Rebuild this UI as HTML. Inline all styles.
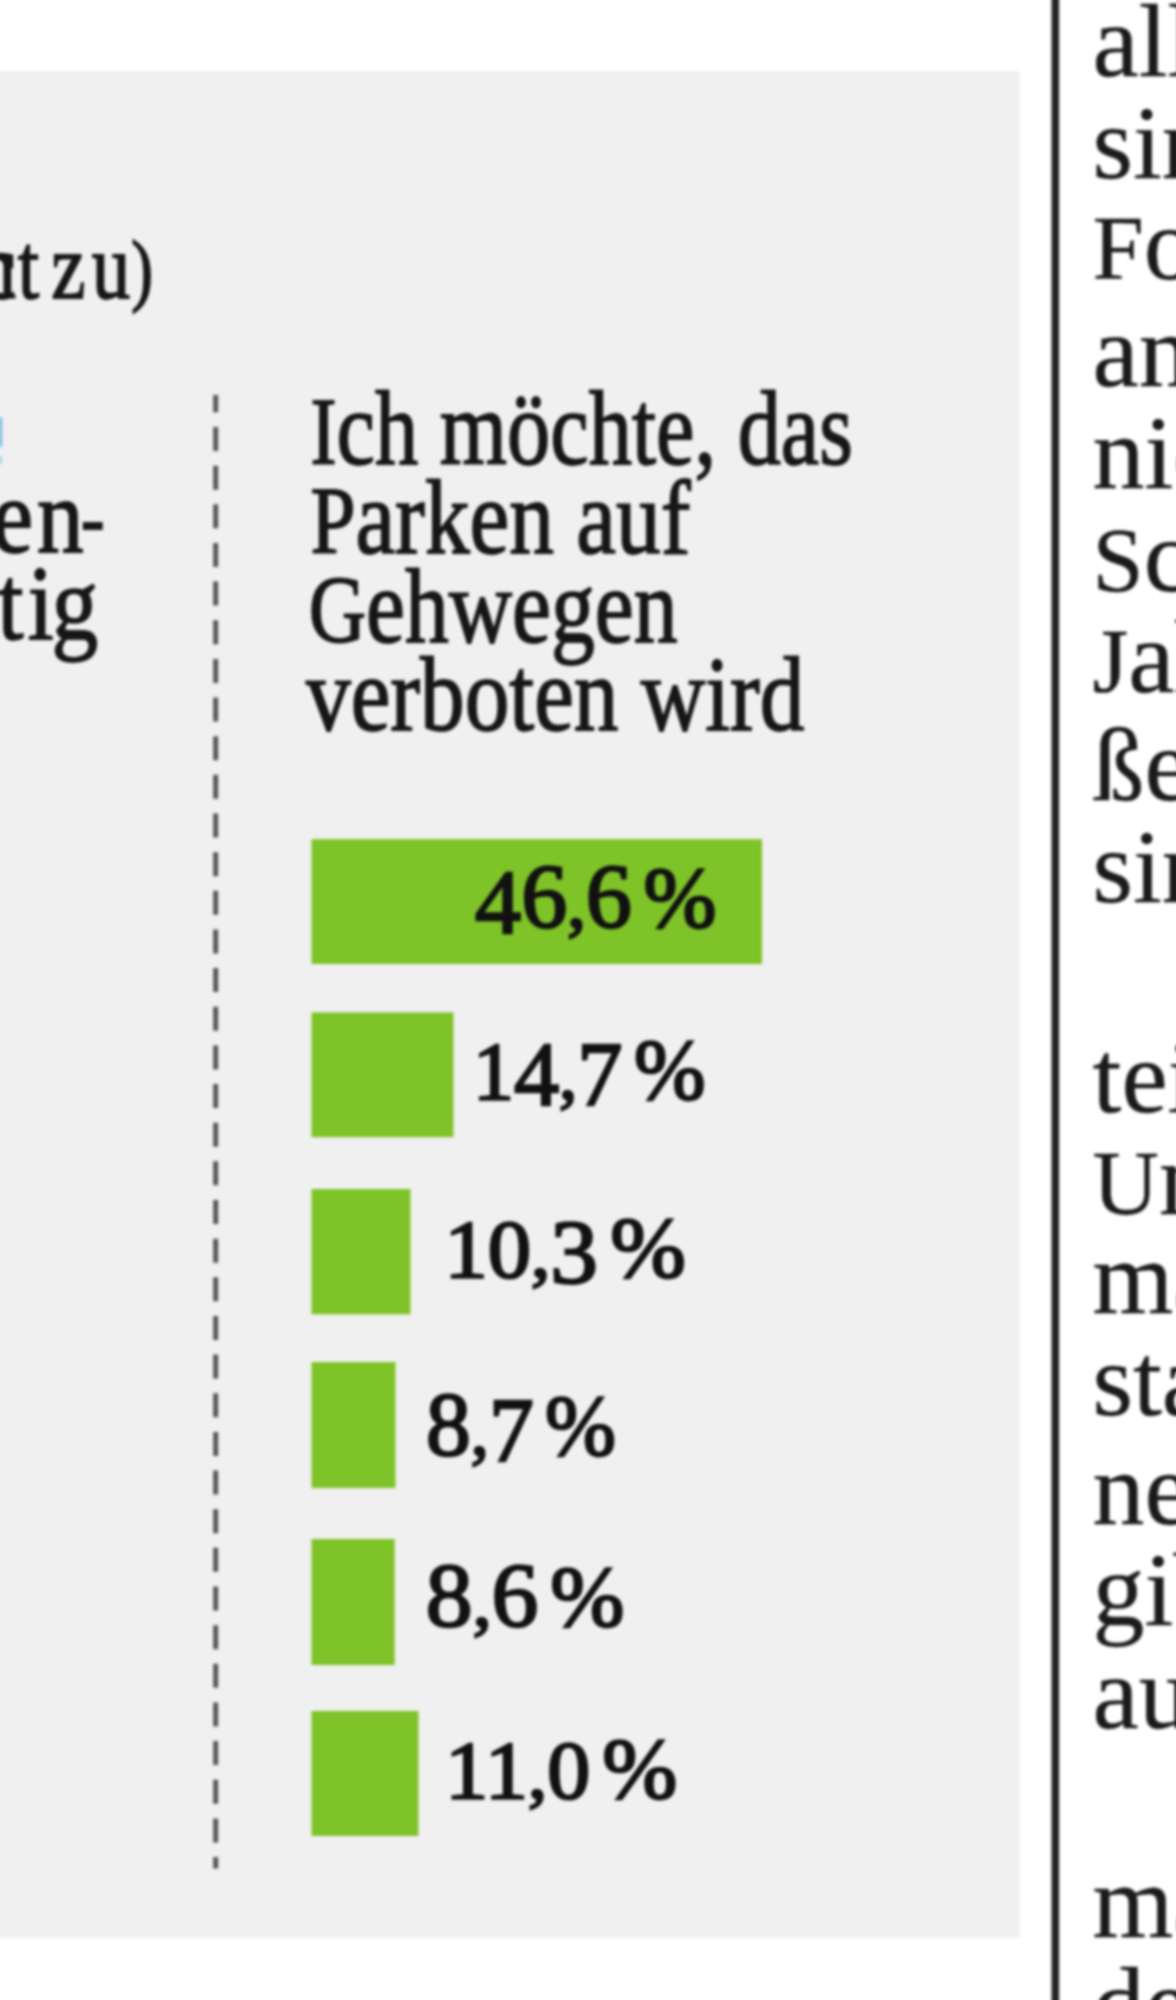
<!DOCTYPE html>
<html lang="de">
<head>
<meta charset="utf-8">
<title>Umfrage: Parken auf Gehwegen</title>
<style>
html,body{margin:0;padding:0;background:#fff;}
html{overflow:hidden;width:1176px;height:2000px;}
body{width:1176px;height:2000px;overflow:hidden;position:relative;}
#wrap{position:absolute;left:0;top:0;width:1176px;height:2000px;overflow:hidden;}
svg{position:absolute;left:-24px;top:-24px;display:block;filter:blur(1.5px);}
.lab{font-family:"Liberation Serif",serif;font-size:106px;fill:#161616;stroke:#161616;stroke-width:1.8px;}
.sub{font-family:"Liberation Serif",serif;font-size:94px;fill:#161616;stroke:#161616;stroke-width:1.8px;}
.pct{font-family:"Liberation Serif",serif;font-weight:400;font-size:83px;fill:#111;stroke:#111;stroke-width:2.6px;}
.body{font-family:"Liberation Serif",serif;font-size:104px;fill:#1a1a1a;stroke:#1a1a1a;stroke-width:0.4px;}
</style>
</head>
<body>
<div id="wrap">
<svg width="1224" height="2048" viewBox="-24 -24 1224 2048">
  <rect x="-24" y="71" width="1043.5" height="1867" fill="#f0f0f0"/>
  <rect x="1051.5" y="-24" width="7.6" height="2048" fill="#222"/>
  <line x1="215.7" y1="395" x2="215.7" y2="1868.5" stroke="#555" stroke-width="5" stroke-dasharray="24 14.65" stroke-dashoffset="6.65"/>
  <rect x="-6" y="417" width="8.5" height="30" fill="#92c5e7"/>
  <rect x="-6" y="456" width="8" height="8" fill="#b5d6ec"/>
  <g fill="#7ec328">
    <rect x="311.5" y="839.2" width="450.5" height="124.8"/>
    <rect x="311.5" y="1012.4" width="142" height="124.8"/>
    <rect x="311.5" y="1189" width="99" height="125.3"/>
    <rect x="311.5" y="1362" width="84" height="126"/>
    <rect x="311.5" y="1539" width="83.2" height="126"/>
    <rect x="311.5" y="1711" width="107" height="125"/>
  </g>
  <text id="L1" class="lab" x="310.51" y="464.00" textLength="542.42" lengthAdjust="spacingAndGlyphs"><tspan font-size="96">I</tspan>ch möchte, das</text>
  <text id="L2" class="lab" x="310.43" y="552.50" textLength="380.01" lengthAdjust="spacingAndGlyphs"><tspan font-size="96">P</tspan>arken auf</text>
  <text id="L3" class="lab" x="308.68" y="641.50" textLength="368.91" lengthAdjust="spacingAndGlyphs"><tspan font-size="96">G</tspan>ehwegen</text>
  <text id="L4" class="lab" x="305.99" y="729.50" textLength="498.54" lengthAdjust="spacingAndGlyphs">verboten wird</text>
  <text id="P1" class="pct" x="475.12" y="927.40" textLength="241.31" lengthAdjust="spacingAndGlyphs"><tspan font-size="91.5" dy="6">4</tspan><tspan font-size="91.5" dy="-6">6</tspan><tspan font-size="74">,</tspan><tspan font-size="91.5">6</tspan> <tspan font-size="87" dx="-5">%</tspan></text>
  <text id="P2" class="pct" x="472.93" y="1098.60" textLength="232.67" lengthAdjust="spacingAndGlyphs">1<tspan font-size="91.5" dy="6">4</tspan><tspan font-size="74" dy="-6">,</tspan><tspan font-size="91.5" dy="6">7</tspan><tspan dy="-6"> </tspan><tspan font-size="87" dx="-5">%</tspan></text>
  <text id="P3" class="pct" x="444.46" y="1277.00" textLength="241.31" lengthAdjust="spacingAndGlyphs">10<tspan font-size="74">,</tspan><tspan font-size="91.5" dy="6">3</tspan><tspan dy="-6"> </tspan><tspan font-size="87" dx="-5">%</tspan></text>
  <text id="P4" class="pct" x="426.07" y="1454.50" textLength="189.91" lengthAdjust="spacingAndGlyphs"><tspan font-size="91.5">8</tspan><tspan font-size="74">,</tspan><tspan font-size="91.5" dy="6">7</tspan><tspan dy="-6"> </tspan><tspan font-size="87" dx="-5">%</tspan></text>
  <text id="P5" class="pct" x="425.83" y="1625.50" textLength="198.68" lengthAdjust="spacingAndGlyphs"><tspan font-size="91.5">8</tspan><tspan font-size="74">,</tspan><tspan font-size="91.5">6</tspan> <tspan font-size="87" dx="-5">%</tspan></text>
  <text id="P6" class="pct" x="445.23" y="1798.00" textLength="231.99" lengthAdjust="spacingAndGlyphs">11<tspan font-size="74">,</tspan>0 <tspan font-size="87" dx="-5">%</tspan></text>
  <text id="B1" class="body" x="1092.50" y="76.00">allerdings</text>
  <text id="B2" class="body" x="1092.50" y="177.50">sind</text>
  <text id="B3" class="body" x="1092.50" y="279.00"><tspan font-size="92">F</tspan>orderungen</text>
  <text id="B4" class="body" x="1092.50" y="386.30">anderen</text>
  <text id="B5" class="body" x="1092.50" y="488.00">nicht</text>
  <text id="B6" class="body" x="1092.50" y="591.00"><tspan font-size="92">S</tspan>chon</text>
  <text id="B7" class="body" x="1092.50" y="692.00"><tspan font-size="92">J</tspan>ahre</text>
  <text id="B8" class="body" x="1092.50" y="800.00">ßen</text>
  <text id="B9" class="body" x="1092.50" y="902.00">sind</text>
  <text id="B11" class="body" x="1092.50" y="1112.00">teilen</text>
  <text id="B12" class="body" x="1092.50" y="1214.00"><tspan font-size="92">U</tspan>nd</text>
  <text id="B13" class="body" x="1092.50" y="1313.00">man</text>
  <text id="B14" class="body" x="1092.50" y="1415.00">stadt</text>
  <text id="B15" class="body" x="1092.50" y="1524.00">neue</text>
  <text id="B16" class="body" x="1092.50" y="1625.00">gibt</text>
  <text id="B17" class="body" x="1092.50" y="1728.00">auf</text>
  <text id="B19" class="body" x="1092.50" y="1937.00">man</text>
  <text id="B20" class="body" x="1092.50" y="2039.00">der</text>
  <g transform="scale(0.82,1)">
    <text class="sub" x="19.3" y="298" text-anchor="end">(1 = trifft voll zu, 6 = trifft gar nic</text>
    <text class="sub" y="298"><tspan x="-27.7">h</tspan><tspan x="21.6">t</tspan> <tspan x="62.6">z</tspan><tspan x="111.8">u</tspan><tspan x="160" font-size="80" dy="-2">)</tspan></text>
  </g>
  <g transform="scale(0.88,1)">
    <text class="lab" x="-3" y="464" text-anchor="end">Ich finde strengere</text>
    <text class="lab" x="-9.4" y="552.4" text-anchor="end">Kontrollen von Gehweg</text>
    <text class="lab" y="552.4"><tspan x="-9.4">e</tspan><tspan x="42.1">n</tspan><tspan x="92" dy="-7" font-size="80">-</tspan></text>
    <text class="lab" x="-2.9" y="639" text-anchor="end">parkern sehr wich</text>
    <text class="lab" y="639"><tspan x="-2.9">t</tspan><tspan x="31.6">i</tspan><tspan x="58.5">g</tspan></text>
  </g>
</svg>
</div>
</body>
</html>
